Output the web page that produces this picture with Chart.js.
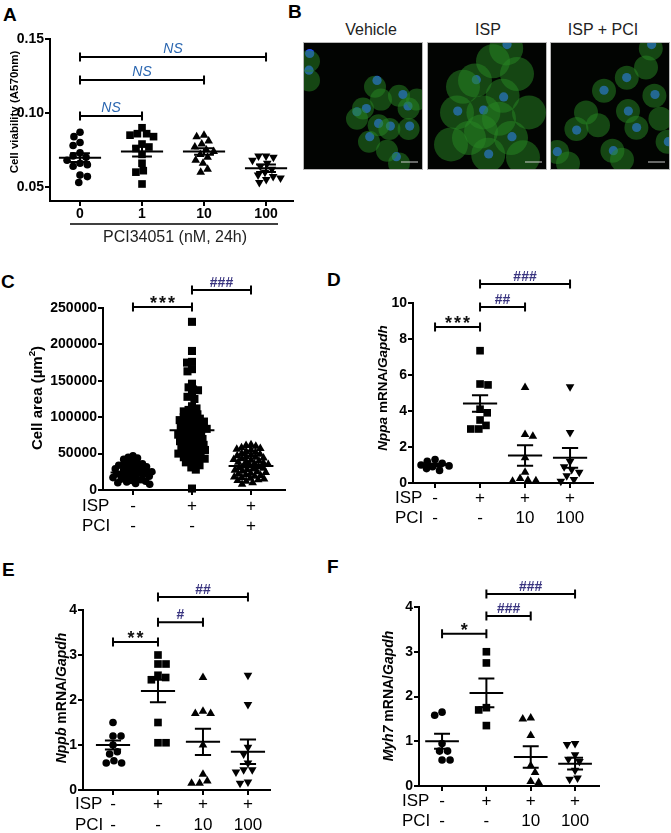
<!DOCTYPE html>
<html><head><meta charset="utf-8">
<script src="https://cdn.jsdelivr.net/npm/chart.js@4.4.0/dist/chart.umd.min.js"></script>
<style>
body{margin:0;background:#fff;}
#root{position:relative;width:671px;height:833px;overflow:hidden;background:#fff;font-family:"Liberation Sans",Arial,Helvetica,sans-serif;}
canvas{position:absolute;}
.lbl{position:absolute;font-weight:bold;font-size:19px;line-height:19px;color:#000;}
.ttl{position:absolute;font-size:16px;line-height:16px;color:#222;transform:translate(-50%,-50%);white-space:nowrap;}
</style></head>
<body><div id="root">
<div class="lbl" style="left:3px;top:5px">A</div>
<div class="lbl" style="left:288px;top:2px">B</div>
<div class="lbl" style="left:1px;top:272px">C</div>
<div class="lbl" style="left:327px;top:270px">D</div>
<div class="lbl" style="left:2px;top:560px">E</div>
<div class="lbl" style="left:327px;top:557px">F</div>
<div class="ttl" style="left:371px;top:30px">Vehicle</div>
<div class="ttl" style="left:488px;top:30px">ISP</div>
<div class="ttl" style="left:603px;top:30px">ISP + PCI</div>
</div>
<script>
// ---------------- DATA ----------------
// Panel A: cell viability
const doseLabels = ['0', '1', '10', '100'];
const doseAxisTitle = 'PCI34051 (nM, 24h)';
const viab0 = [0.087, 0.084, 0.080, 0.078, 0.073, 0.071, 0.070, 0.068, 0.066, 0.065, 0.064, 0.058, 0.057, 0.053];
const viab1 = [0.090, 0.086, 0.086, 0.085, 0.084, 0.079, 0.077, 0.076, 0.072, 0.066, 0.061, 0.060, 0.052];
const viab10 = [0.085, 0.084, 0.081, 0.079, 0.077, 0.075, 0.074, 0.072, 0.070, 0.068, 0.066, 0.062, 0.060];
const viab100 = [0.071, 0.071, 0.070, 0.068, 0.066, 0.064, 0.062, 0.060, 0.058, 0.057, 0.056, 0.055, 0.053];
const viabMean = [0.0698, 0.0739, 0.0739, 0.0626];
const viabSem = [0.0030, 0.0034, 0.0022, 0.0025];
const viabTicks = [0.05, 0.10, 0.15];
const viabSigFrom = [0, 0, 0], viabSigTo = [1, 2, 3];
const viabSigY = [0.098, 0.1223, 0.1378];
const viabSigText = ['NS', 'NS', 'NS'];

// Panel B: immunofluorescence (approximate nuclei / cell body positions, % of image)
const vehNuclei = [[5.6,9],[5,22],[61.7,30],[83.3,41],[52.8,52],[45,54.5],[87.5,50],[63,63.6],[72.8,65.7],[88.9,65.7],[55.6,74],[77.8,89.6]];
const vehCells = [[5,15],[5,30],[60,35],[80,42],[50,52],[45,60],[88,52],[63,65],[72,68],[88,68],[55,78],[70,85],[80,95],[65,45],[95,45]];
const ispNuclei = [[66.7,2],[41.1,29.4],[63.9,42.9],[25.6,54],[47.2,53.2],[70.8,74],[51.4,87.5]];
const ispCells = [[66,5],[40,30],[63,42],[25,55],[47,55],[70,75],[51,88],[30,35],[55,15],[60,60],[35,75],[80,90],[45,70],[20,80],[75,25],[85,55]];
const pciNuclei = [[84.7,2],[63.9,27.8],[45,37.7],[87.5,41],[65.3,54],[72.2,66.8],[22.2,68.8],[52.8,84.9],[6.1,85.7],[98.6,77.9]];
const pciCells = [[84,5],[64,28],[45,38],[87,42],[65,54],[72,67],[22,68],[52,85],[6,86],[98,78],[30,55],[80,20],[40,65],[15,95],[60,92],[92,60]];

// Panel C: cell area
const areaIspRow = ['-', '+', '+'];
const areaPciRow = ['-', '-', '+'];
const areaVeh = [47000,45000,44000,42000,40000,38000,37000,36000,35000,34000,33000,32000,31000,30000,29000,28000,27000,26000,25000,25000,24000,23000,22000,22000,21000,20000,19000,18000,17000,16000,15000,14000,13000,12000,11000,10000,9000,8000];
const areaIsp = [231000,191000,176000,175000,166000,163000,146000,141000,138000,137000,131000,128000,125000,115000,112000,110000,108000,106000,104000,102000,100000,99000,98000,96000,95000,94000,92000,91000,90000,88000,87000,86000,85000,84000,82000,81000,80000,78000,77000,76000,75000,73000,72000,71000,70000,68000,67000,66000,65000,63000,62000,61000,60000,58000,57000,56000,55000,53000,52000,51000,50000,48000,47000,46000,45000,43000,42000,40000,38000,36000,34000,31000,28000,2000];
const areaIspPci = [62000,61000,60000,58000,57000,56000,55000,53000,52000,50000,49000,48000,47000,46000,45000,44000,43000,42000,41000,40000,39000,38000,37000,36000,35000,34000,33000,32000,31000,30000,29000,28000,27000,26000,25000,24000,23000,22000,21000,20000,19000,18000,17000,16000,15000,14000,13000,12000,10000,8000];
const areaMean = [24000, 82000, 33000];
const areaSem = [1500, 4000, 1500];
const areaTicks = [0, 50000, 100000, 150000, 200000, 250000];
const areaSigFrom = [0, 1], areaSigTo = [1, 2];
const areaSigY = [251400, 274700];
const areaSigText = ['***', '###'];

// Panels D-F: gene expression
const geneIspRow = ['-', '+', '+', '+'];
const genePciRow = ['-', '-', '10', '100'];
const nppaVeh = [1.3, 1.2, 1.1, 1.0, 0.95, 0.9, 0.8, 0.7];
const nppaIsp = [7.35, 5.5, 5.45, 4.1, 3.9, 3.5, 3.2, 3.0, 3.0];
const nppa10 = [5.3, 2.7, 2.6, 1.4, 0.6, 0.25, 0.15, 0.12, 0.1];
const nppa100 = [5.35, 2.8, 1.2, 0.9, 0.75, 0.6, 0.4, 0.2, 0.1];
const nppaMean = [1.0, 4.42, 1.53, 1.4];
const nppaSem = [0.08, 0.46, 0.57, 0.55];
const nppaTicks = [0, 2, 4, 6, 8, 10];
const nppaSigY = [8.67, 9.78, 11.06];
const nppaSigText = ['***', '##', '###'];

const nppbVeh = [1.5, 1.2, 1.2, 1.0, 0.85, 0.8, 0.65, 0.6, 0.6];
const nppbIsp = [3.0, 2.8, 2.8, 2.55, 2.5, 2.45, 1.5, 1.05, 1.05];
const nppb10 = [2.5, 1.75, 1.7, 1.7, 1.0, 0.35, 0.2, 0.15, 0.15];
const nppb100 = [2.55, 1.9, 0.95, 0.8, 0.6, 0.45, 0.45, 0.4, 0.18, 0.15];
const nppbMean = [1.0, 2.2, 1.07, 0.85];
const nppbSem = [0.1, 0.25, 0.29, 0.27];
const nppbTicks = [0, 1, 2, 3, 4];
const nppbSigY = [3.29, 3.73, 4.29];
const nppbSigText = ['**', '#', '##'];

const myh7Veh = [1.65, 1.58, 0.95, 0.78, 0.78, 0.58, 0.58];
const myh7Isp = [3.0, 2.75, 1.75, 1.7, 1.35];
const myh710 = [1.52, 1.5, 1.13, 0.45, 0.3, 0.1, 0.08];
const myh7100 = [0.95, 0.93, 0.7, 0.6, 0.55, 0.35, 0.18, 0.15];
const myh7Mean = [1.0, 2.08, 0.65, 0.5];
const myh7Sem = [0.17, 0.32, 0.24, 0.13];
const myh7Ticks = [0, 1, 2, 3, 4];
const myh7SigY = [3.40, 3.80, 4.29];
const myh7SigText = ['*', '###', '###'];

const geneSigFrom = [0, 1, 1], geneSigTo = [1, 2, 3];

// ---------------- RENDERING ----------------
const FAM = '"Liberation Sans", Arial, Helvetica, sans-serif';
Chart.defaults.font.family = FAM;
const root = document.getElementById('root');

function swarm(vals, pxY, pxX, d, maxHalf) {
  const idx = vals.map((v, i) => i).sort((a, b) => vals[b] - vals[a] || a - b);
  const placed = [];
  const off = new Array(vals.length).fill(0);
  idx.forEach((i, n) => {
    const y = vals[i] * pxY;
    const near = placed.filter(p => Math.abs(p.y - y) < d);
    const cands = [0];
    near.forEach(p => { const dx = Math.sqrt(Math.max(0, d * d - (p.y - y) ** 2)) + 0.01; cands.push(p.x + dx, p.x - dx); });
    cands.sort((a, b) => Math.abs(a) - Math.abs(b) || (n % 2 ? a - b : b - a));
    let x = null;
    for (const c of cands) {
      if (Math.abs(c) > maxHalf) continue;
      if (near.every(p => (p.x - c) ** 2 + (p.y - y) ** 2 >= d * d - 0.05)) { x = c; break; }
    }
    if (x === null) {
      let best = 0, bd = -1;
      for (let c = -maxHalf; c <= maxHalf; c += 0.5) {
        const md = Math.min(...near.map(p => Math.hypot(p.x - c, p.y - y)));
        if (md > bd) { bd = md; best = c; }
      }
      x = best;
    }
    placed.push({ x, y });
    off[i] = x / pxX;
  });
  return off;
}

function vtext(ctx, x, y, segs, size) {
  ctx.save();
  ctx.translate(x, y);
  ctx.rotate(-Math.PI / 2);
  ctx.textBaseline = 'middle';
  ctx.textAlign = 'left';
  ctx.fillStyle = '#000';
  const fonts = segs.map(s => (s.it ? 'italic ' : '') + 'bold ' + (s.sup ? size * 0.65 : size) + 'px ' + FAM);
  let total = 0;
  const ws = segs.map((s, i) => { ctx.font = fonts[i]; const w = ctx.measureText(s.t).width; total += w; return w; });
  let cx = -total / 2;
  segs.forEach((s, i) => { ctx.font = fonts[i]; ctx.fillText(s.t, cx, s.sup ? -size * 0.35 : 0); cx += ws[i]; });
  ctx.restore();
}

function sigText(ctx, x, yLine, text) {
  ctx.save();
  ctx.textAlign = 'center';
  ctx.textBaseline = 'alphabetic';
  if (text === 'NS') {
    ctx.font = 'italic 14px ' + FAM;
    ctx.fillStyle = '#2a66b0';
    ctx.fillText(text, x, yLine - 4);
  } else if (text[0] === '*') {
    ctx.font = 'bold 18px ' + FAM;
    ctx.fillStyle = '#111';
    const n = text.length;
    for (let j = 0; j < n; j++) ctx.fillText('*', x + (j - (n - 1) / 2) * 9, yLine + 2);
  } else {
    ctx.font = 'bold 14px ' + FAM;
    ctx.fillStyle = '#3a3580';
    ctx.fillText(text, x, yLine - 3);
  }
  ctx.restore();
}

function makePanel(p) {
  const cv = document.createElement('canvas');
  cv.width = p.cw; cv.height = p.ch;
  cv.style.left = p.cl + 'px'; cv.style.top = p.ct + 'px';
  cv.style.width = p.cw + 'px'; cv.style.height = p.ch + 'px';
  root.appendChild(cv);
  const padL = p.area.l - p.cl, padT = p.area.t - p.ct;
  const padR = p.cl + p.cw - p.area.r, padB = p.ct + p.ch - p.area.b;
  const pxY = (p.area.b - p.area.t) / (p.yMax - p.yMin);
  const pxX = (p.area.r - p.area.l) / (p.xMax - p.xMin);
  const datasets = p.groups.map((g, gi) => {
    const off = swarm(g.vals, pxY, pxX, p.swarmD, p.swarmHalf);
    return {
      data: g.vals.map((v, i) => ({ x: gi + off[i], y: v })),
      pointStyle: g.style, pointRadius: g.r, pointHoverRadius: g.r,
      pointRotation: g.rot || 0, pointBackgroundColor: '#000', pointBorderWidth: 0,
      clip: false
    };
  });
  const deco = {
    id: 'deco',
    afterDatasetsDraw(chart) {
      const ctx = chart.ctx, xs = chart.scales.x, ys = chart.scales.y;
      ctx.save();
      ctx.strokeStyle = '#000'; ctx.lineWidth = 2; ctx.lineCap = 'butt';
      p.means.forEach((m, i) => {
        const ym = ys.getPixelForValue(m);
        const yt = ys.getPixelForValue(m + p.sems[i]);
        const yb = ys.getPixelForValue(m - p.sems[i]);
        const xc = xs.getPixelForValue(i);
        const m1 = xs.getPixelForValue(i - p.meanHalf), m2 = xs.getPixelForValue(i + p.meanHalf);
        const s1 = xs.getPixelForValue(i - p.semHalf), s2 = xs.getPixelForValue(i + p.semHalf);
        ctx.beginPath();
        ctx.moveTo(m1, ym); ctx.lineTo(m2, ym);
        ctx.moveTo(s1, yt); ctx.lineTo(s2, yt);
        ctx.moveTo(s1, yb); ctx.lineTo(s2, yb);
        ctx.moveTo(xc, yt); ctx.lineTo(xc, yb);
        ctx.stroke();
      });
      ctx.restore();
    },
    afterDraw(chart) {
      const ctx = chart.ctx, xs = chart.scales.x, ys = chart.scales.y;
      ctx.save();
      ctx.strokeStyle = '#000'; ctx.lineWidth = 2;
      p.sig.from.forEach((f, k) => {
        const x1 = xs.getPixelForValue(f), x2 = xs.getPixelForValue(p.sig.to[k]);
        const y = ys.getPixelForValue(p.sig.y[k]);
        ctx.beginPath();
        ctx.moveTo(x1, y); ctx.lineTo(x2, y);
        ctx.moveTo(x1, y - 4.5); ctx.lineTo(x1, y + 4.5);
        ctx.moveTo(x2, y - 4.5); ctx.lineTo(x2, y + 4.5);
        ctx.stroke();
        sigText(ctx, (x1 + x2) / 2, y, p.sig.text[k]);
      });
      const axisY = ys.getPixelForValue(p.yMin);
      ctx.fillStyle = '#000';
      ctx.textBaseline = 'middle';
      p.rows.forEach(r => {
        ctx.font = r.font;
        const y = axisY + r.dy;
        if (r.head) { ctx.textAlign = 'left'; ctx.fillText(r.head, r.headX - p.cl, y); }
        ctx.textAlign = 'center';
        r.cells.forEach((c, i) => ctx.fillText(c, xs.getPixelForValue(i), y));
      });
      vtext(ctx, p.yTitle.x - p.cl, p.yTitle.y - p.ct, p.yTitle.segs, p.yTitle.size);
      if (p.extra) p.extra(ctx, p);
      ctx.restore();
    }
  };
  const gridOpt = { display: true, drawOnChartArea: false, drawTicks: true, tickLength: 5, color: '#000', lineWidth: 2 };
  const borderOpt = { display: true, color: '#000', width: 2 };
  new Chart(cv, {
    type: 'scatter',
    data: { datasets },
    options: {
      responsive: false, animation: false, events: [],
      layout: { autoPadding: false, padding: { left: 0, top: padT, right: padR, bottom: 0 } },
      plugins: { legend: { display: false }, tooltip: { enabled: false }, title: { display: false } },
      scales: {
        x: {
          type: 'linear', min: p.xMin, max: p.xMax,
          afterBuildTicks: a => { a.ticks = p.groups.map((g, i) => ({ value: i })); },
          afterFit: s => { s.height = padB; },
          ticks: { display: false },
          grid: gridOpt, border: borderOpt
        },
        y: {
          type: 'linear', min: p.yMin, max: p.yMax,
          afterBuildTicks: a => { a.ticks = p.yTicks.map(v => ({ value: v })); },
          afterFit: s => { s.width = padL; },
          ticks: { callback: v => p.yFmt(v), font: { size: 14, weight: 'bold' }, color: '#000', padding: 1, autoSkip: false },
          grid: gridOpt, border: borderOpt
        }
      }
    },
    plugins: [deco]
  });
}

const rowFont = '17px ' + FAM;

// Panel A
makePanel({
  cl: 0, ct: 0, cw: 303, ch: 251, area: { l: 50, t: 39, r: 293, b: 201 },
  xMin: -0.484, xMax: 3.435, yMin: 0.0405, yMax: 0.15, yTicks: viabTicks, yFmt: v => v.toFixed(2),
  groups: [
    { vals: viab0, style: 'circle', r: 3.8 },
    { vals: viab1, style: 'rect', r: 5.4 },
    { vals: viab10, style: 'triangle', r: 5 },
    { vals: viab100, style: 'triangle', r: 5, rot: 180 }
  ],
  swarmD: 7.5, swarmHalf: 20,
  means: viabMean, sems: viabSem, meanHalf: 0.34, semHalf: 0.16,
  sig: { from: viabSigFrom, to: viabSigTo, y: viabSigY, text: viabSigText },
  rows: [{ cells: doseLabels, dy: 13, font: 'bold 14px ' + FAM }],
  yTitle: { x: 15, y: 112, segs: [{ t: 'Cell viability (A570nm)' }], size: 11.5 },
  extra: (ctx, p) => {
    ctx.strokeStyle = '#000'; ctx.lineWidth = 1.5;
    ctx.beginPath(); ctx.moveTo(70, 224); ctx.lineTo(278, 224); ctx.stroke();
    ctx.font = '16px ' + FAM; ctx.fillStyle = '#222'; ctx.textAlign = 'center'; ctx.textBaseline = 'middle';
    ctx.fillText(doseAxisTitle, 175, 238);
  }
});

// Panel C
makePanel({
  cl: 3, ct: 260, cw: 292, ch: 280, area: { l: 103, t: 308, r: 285, b: 490 },
  xMin: -0.508, xMax: 2.576, yMin: 0, yMax: 250000, yTicks: areaTicks, yFmt: v => String(v),
  groups: [
    { vals: areaVeh, style: 'circle', r: 3.8 },
    { vals: areaIsp, style: 'rect', r: 5.7 },
    { vals: areaIspPci, style: 'triangle', r: 5 }
  ],
  swarmD: 5, swarmHalf: 20,
  means: areaMean, sems: areaSem, meanHalf: 0.38, semHalf: 0.18,
  sig: { from: areaSigFrom, to: areaSigTo, y: areaSigY, text: areaSigText },
  rows: [
    { head: 'ISP', headX: 82, cells: areaIspRow, dy: 16, font: rowFont },
    { head: 'PCI', headX: 82, cells: areaPciRow, dy: 36.5, font: rowFont }
  ],
  yTitle: { x: 38, y: 398, segs: [{ t: 'Cell area (\u00b5m' }, { t: '2', sup: true }, { t: ')' }], size: 15 }
});

// Panel D
makePanel({
  cl: 343, ct: 260, cw: 265, ch: 273, area: { l: 413, t: 303, r: 593, b: 483 },
  xMin: -0.49, xMax: 3.51, yMin: 0, yMax: 10, yTicks: nppaTicks, yFmt: v => String(v),
  groups: [
    { vals: nppaVeh, style: 'circle', r: 3.8 },
    { vals: nppaIsp, style: 'rect', r: 5.4 },
    { vals: nppa10, style: 'triangle', r: 5 },
    { vals: nppa100, style: 'triangle', r: 5, rot: 180 }
  ],
  swarmD: 8, swarmHalf: 14,
  means: nppaMean, sems: nppaSem, meanHalf: 0.38, semHalf: 0.18,
  sig: { from: geneSigFrom, to: geneSigTo, y: nppaSigY, text: nppaSigText },
  rows: [
    { head: 'ISP', headX: 395, cells: geneIspRow, dy: 15.5, font: rowFont },
    { head: 'PCI', headX: 395, cells: genePciRow, dy: 35.5, font: rowFont }
  ],
  yTitle: { x: 383, y: 388, segs: [{ t: 'Nppa', it: true }, { t: ' mRNA/' }, { t: 'Gapdh', it: true }], size: 13.5 }
});

// Panel E
makePanel({
  cl: 3, ct: 570, cw: 282, ch: 263, area: { l: 83, t: 610, r: 270, b: 790 },
  xMin: -0.667, xMax: 3.49, yMin: 0, yMax: 4, yTicks: nppbTicks, yFmt: v => String(v),
  groups: [
    { vals: nppbVeh, style: 'circle', r: 3.8 },
    { vals: nppbIsp, style: 'rect', r: 5.4 },
    { vals: nppb10, style: 'triangle', r: 5 },
    { vals: nppb100, style: 'triangle', r: 5, rot: 180 }
  ],
  swarmD: 8, swarmHalf: 14,
  means: nppbMean, sems: nppbSem, meanHalf: 0.38, semHalf: 0.18,
  sig: { from: geneSigFrom, to: geneSigTo, y: nppbSigY, text: nppbSigText },
  rows: [
    { head: 'ISP', headX: 75, cells: geneIspRow, dy: 14, font: rowFont },
    { head: 'PCI', headX: 75, cells: genePciRow, dy: 35, font: rowFont }
  ],
  yTitle: { x: 62, y: 698, segs: [{ t: 'Nppb', it: true }, { t: ' mRNA/' }, { t: 'Gapdh', it: true }], size: 14 }
});

// Panel F
makePanel({
  cl: 343, ct: 567, cw: 271, ch: 266, area: { l: 419, t: 607, r: 599, b: 786 },
  xMin: -0.52, xMax: 3.54, yMin: 0, yMax: 4, yTicks: myh7Ticks, yFmt: v => String(v),
  groups: [
    { vals: myh7Veh, style: 'circle', r: 3.8 },
    { vals: myh7Isp, style: 'rect', r: 5.4 },
    { vals: myh710, style: 'triangle', r: 5 },
    { vals: myh7100, style: 'triangle', r: 5, rot: 180 }
  ],
  swarmD: 8, swarmHalf: 14,
  means: myh7Mean, sems: myh7Sem, meanHalf: 0.38, semHalf: 0.18,
  sig: { from: geneSigFrom, to: geneSigTo, y: myh7SigY, text: myh7SigText },
  rows: [
    { head: 'ISP', headX: 402, cells: geneIspRow, dy: 15.5, font: rowFont },
    { head: 'PCI', headX: 402, cells: genePciRow, dy: 35.5, font: rowFont }
  ],
  yTitle: { x: 389, y: 696, segs: [{ t: 'Myh7', it: true }, { t: ' mRNA/' }, { t: 'Gapdh', it: true }], size: 14 }
});

// Panel B images
function makeImage(cl, ct, w, h, cells, cellR, nuclei) {
  const cv = document.createElement('canvas');
  cv.width = w; cv.height = h;
  cv.style.left = cl + 'px'; cv.style.top = ct + 'px';
  cv.style.width = w + 'px'; cv.style.height = h + 'px';
  root.appendChild(cv);
  const bg = {
    id: 'bg',
    beforeDatasetsDraw(chart) {
      const a = chart.chartArea, ctx = chart.ctx;
      ctx.save(); ctx.fillStyle = '#020402'; ctx.fillRect(a.left, a.top, a.right - a.left, a.bottom - a.top); ctx.restore();
    },
    afterDraw(chart) {
      const a = chart.chartArea, ctx = chart.ctx;
      ctx.save(); ctx.strokeStyle = '#b8b8b8'; ctx.lineWidth = 1;
      ctx.strokeRect(a.left + 0.5, a.top + 0.5, a.right - a.left - 1, a.bottom - a.top - 1);
      ctx.strokeStyle = '#ccc'; ctx.beginPath();
      ctx.moveTo(a.right - 22, a.bottom - 8); ctx.lineTo(a.right - 5, a.bottom - 8); ctx.stroke();
      ctx.restore();
    }
  };
  new Chart(cv, {
    type: 'scatter',
    data: {
      datasets: [
        { data: cells.map(c => ({ x: c[0], y: c[1] })), pointRadius: cellR, pointHoverRadius: cellR, pointBackgroundColor: 'rgba(40,135,35,0.5)', pointBorderWidth: 0, clip: true },
        { data: nuclei.map(c => ({ x: c[0], y: c[1] })), pointRadius: 4.6, pointHoverRadius: 4.6, pointBackgroundColor: '#1f48ff', pointBorderWidth: 0, clip: true }
      ]
    },
    options: {
      responsive: false, animation: false, events: [],
      layout: { autoPadding: false, padding: 0 },
      plugins: { legend: { display: false }, tooltip: { enabled: false } },
      scales: {
        x: { type: 'linear', min: 0, max: 100, display: false },
        y: { type: 'linear', min: 0, max: 100, reverse: true, display: false }
      }
    },
    plugins: [bg]
  });
}
makeImage(303, 42, 120, 128, vehCells, 11, vehNuclei);
makeImage(427, 42, 120, 128, ispCells, 17, ispNuclei);
makeImage(550, 42, 120, 128, pciCells, 12, pciNuclei);
</script>
</body></html>
